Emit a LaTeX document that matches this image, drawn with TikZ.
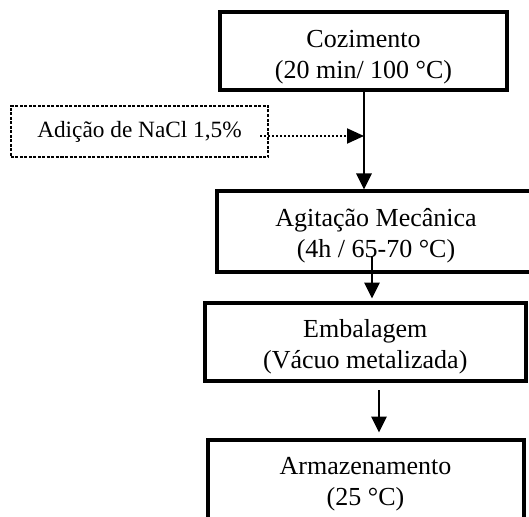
\documentclass[tikz,border=0pt]{standalone}
\usepackage{fontspec}
\setmainfont{Liberation Serif}
\usetikzlibrary{arrows.meta}
\begin{document}
\begin{tikzpicture}[x=1bp,y=-1bp,
  box/.style={draw, line width=4bp, inner sep=0pt, align=center,
    font=\fontsize{26bp}{31bp}\selectfont},
  addbox/.style={draw, line width=2bp, dash pattern=on 3bp off 1.5bp,
    inner sep=0pt, minimum width=257bp, minimum height=51bp,
    font=\fontsize{23.3bp}{28bp}\selectfont},
  arr/.style={line width=2.75bp, -{Triangle[length=16bp,width=15bp]}},
  dotarr/.style={line width=2bp, dash pattern=on 2bp off 2bp,
    -{Triangle[length=17bp,width=15bp]}},
]
\clip (0,0) rectangle (529,517);
\node[box, minimum width=287bp, minimum height=78.5bp] (coz) at (363.5,51.25)
  {\rule{0pt}{28.1bp}Cozimento\\(20 min/ 100 °C)};
\node[box, minimum width=318bp, minimum height=80bp] (agi) at (376,231.5)
  {\rule{0pt}{26.6bp}Agitação Mecânica\\(4h / 65-70 °C)};
\node[box, minimum width=320.5bp, minimum height=78bp] (emb) at (365.25,341.5)
  {\rule{0pt}{28.6bp}Embalagem\\(Vácuo metalizada)};
\node[box, minimum width=316bp, minimum height=80bp] (arm) at (365.5,479.5)
  {\rule{0pt}{26.6bp}Armazenamento\\(25 °C)};
\node[addbox] (nacl) at (139.5,131.5) {Adição de NaCl 1,5\%};

\coordinate (j) at (364,136);
\coordinate (s) at (260,136);
\coordinate (a1) at (372,256);
\coordinate (c3) at (379,0);

\draw[dotarr] (s) -- (j);
\draw[arr] (coz.south -| j) -- (agi.north -| j);
\draw[arr, shorten >=2bp] (a1) -- (a1 |- emb.north);
\draw[arr, shorten <=7.5bp, shorten >=5bp] (emb.south -| c3) -- (arm.north -| c3);
\end{tikzpicture}
\end{document}
